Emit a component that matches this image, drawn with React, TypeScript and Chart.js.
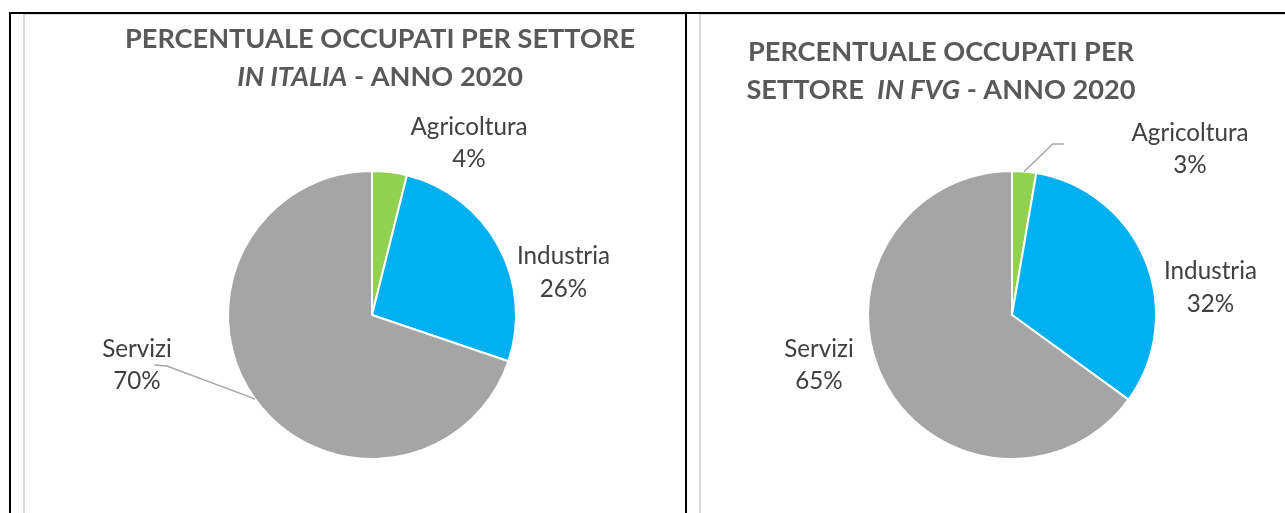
import React, { useEffect, useRef } from "react";
import { Chart, registerables } from "chart.js";

Chart.register(...registerables);

// ---------- data ----------
const categories = ["Agricoltura", "Industria", "Servizi"];
const italiaValues = [3.9, 26.3, 69.8];
const fvgValues = [2.7, 32.3, 65.0];
const sliceColors = ["#92D050", "#00B0F0", "#A5A5A5"];

type Run = { t: string; i?: boolean };
const italiaTitle: Run[][] = [
  [{ t: "PERCENTUALE OCCUPATI PER SETTORE" }],
  [{ t: "IN ITALIA", i: true }, { t: " - ANNO 2020" }],
];
const fvgTitle: Run[][] = [
  [{ t: "PERCENTUALE OCCUPATI PER" }],
  [{ t: "SETTORE  " }, { t: "IN FVG", i: true }, { t: " - ANNO 2020" }],
];

// ---------- styling / layout ----------
const FONT = "Lato";
const TITLE_COLOR = "#595959";
const LABEL_COLOR = "#404040";
const LEADER_COLOR = "#A6A6A6";
const TITLE_SIZE = 26.5;
const TITLE_FIT_TEXT = "PERCENTUALE OCCUPATI PER SETTORE";
const TITLE_FIT_WIDTH = 510;
const LABEL_FIT_TEXT = "Industria";
const LABEL_FIT_WIDTH = 93;
const LINE_HALF = 16.2;

type Cfg = {
  values: number[];
  title: Run[][];
  box: { x: number; y: number; w: number; h: number };
  pie: { cx: number; cy: number; r: number };
  titlePos: { cx: number; baselines: number[] };
  labels: { dx: number; dy: number }[];
  leaders: (number[][] | null)[];
};

const leftCfg: Cfg = {
  values: italiaValues,
  title: italiaTitle,
  box: { x: 25, y: 15, w: 660, h: 498 },
  pie: { cx: 372, cy: 315, r: 144 },
  titlePos: { cx: 380, baselines: [48, 86] },
  labels: [
    { dx: 97, dy: -172.5 },
    { dx: 191.5, dy: -43 },
    { dx: -235, dy: 49.5 },
  ],
  leaders: [null, null, [[-217.7, 50], [-205.2, 51]]],
};

const rightCfg: Cfg = {
  values: fvgValues,
  title: fvgTitle,
  box: { x: 701, y: 15, w: 584, h: 498 },
  pie: { cx: 1012, cy: 315, r: 144 },
  titlePos: { cx: 941, baselines: [61, 99] },
  labels: [
    { dx: 178, dy: -166.5 },
    { dx: 198.5, dy: -28 },
    { dx: -193, dy: 49.5 },
  ],
  leaders: [[[52, -171], [40.7, -171]], null, null],
};

function fitSize(ctx: CanvasRenderingContext2D, weight: string, text: string, width: number) {
  ctx.font = `${weight} 100px ${FONT}`;
  const w = ctx.measureText(text).width;
  return (100 * width) / w;
}

function makePlugin(cfg: Cfg) {
  return {
    id: "pieLabels",
    afterDatasetsDraw(chart: any) {
      const ctx: CanvasRenderingContext2D = chart.ctx;
      const ox = cfg.box.x;
      const oy = cfg.box.y;
      ctx.save();
      // title (slightly condensed to mimic the narrow original face)
      ctx.fillStyle = TITLE_COLOR;
      ctx.textBaseline = "alphabetic";
      ctx.textAlign = "left";
      ctx.font = `700 ${TITLE_SIZE}px ${FONT}`;
      const sx = TITLE_FIT_WIDTH / ctx.measureText(TITLE_FIT_TEXT).width;
      cfg.title.forEach((line, li) => {
        const runs = line.map((r) => ({
          t: r.t,
          font: `${r.i ? "italic " : ""}700 ${TITLE_SIZE}px ${FONT}`,
          w: 0,
        }));
        let total = 0;
        runs.forEach((r) => {
          ctx.font = r.font;
          r.w = ctx.measureText(r.t).width * sx;
          total += r.w;
        });
        let x = cfg.titlePos.cx - ox - total / 2;
        const y = cfg.titlePos.baselines[li] - oy;
        runs.forEach((r) => {
          ctx.save();
          ctx.font = r.font;
          ctx.translate(x, y);
          ctx.scale(sx, 1);
          ctx.fillText(r.t, 0, 0);
          ctx.restore();
          x += r.w;
        });
      });

      // labels
      const meta = chart.getDatasetMeta(0);
      const values: number[] = chart.data.datasets[0].data;
      const total = values.reduce((s, v) => s + v, 0);
      const lSize = fitSize(ctx, "400", LABEL_FIT_TEXT, LABEL_FIT_WIDTH);
      const capH = lSize * 0.7165;
      ctx.textAlign = "center";
      meta.data.forEach((arc: any, i: number) => {
        const p = arc.getProps(["x", "y", "startAngle", "endAngle", "outerRadius"], true);
        const off = cfg.labels[i];
        const lx = p.x + off.dx;
        const ly = p.y + off.dy;
        const lines = [categories[i], Math.round((values[i] / total) * 100) + "%"];
        ctx.font = `400 ${lSize}px ${FONT}`;
        ctx.fillStyle = LABEL_COLOR;
        lines.forEach((s, k) => {
          ctx.fillText(s, lx, ly + (k === 0 ? -LINE_HALF : LINE_HALF) + capH / 2);
        });
        const lead = cfg.leaders[i];
        if (lead) {
          const mid = (p.startAngle + p.endAngle) / 2;
          ctx.beginPath();
          ctx.moveTo(p.x + lead[0][0], p.y + lead[0][1]);
          for (let k = 1; k < lead.length; k++) ctx.lineTo(p.x + lead[k][0], p.y + lead[k][1]);
          ctx.lineTo(p.x + Math.cos(mid) * p.outerRadius, p.y + Math.sin(mid) * p.outerRadius);
          ctx.strokeStyle = LEADER_COLOR;
          ctx.lineWidth = 1.5;
          ctx.stroke();
        }
      });
      ctx.restore();
    },
  };
}

function PieChart({ cfg }: { cfg: Cfg }) {
  const ref = useRef<HTMLCanvasElement>(null);
  useEffect(() => {
    let chart: Chart | null = null;
    let cancelled = false;
    const make = () => {
      if (cancelled || !ref.current) return;
      const { box, pie } = cfg;
      const cx = pie.cx - box.x;
      const cy = pie.cy - box.y;
      const a = pie.r + 6;
      chart = new Chart(ref.current, {
        type: "pie",
        data: {
          labels: categories,
          datasets: [
            {
              data: cfg.values,
              backgroundColor: sliceColors,
              borderColor: "#ffffff",
              borderWidth: 2,
              hoverOffset: 0,
              radius: pie.r,
            } as any,
          ],
        },
        options: {
          responsive: false,
          animation: false,
          events: [],
          layout: {
            padding: {
              left: cx - a,
              right: box.w - cx - a,
              top: cy - a,
              bottom: box.h - cy - a,
            },
          },
          plugins: {
            legend: { display: false },
            tooltip: { enabled: false },
            title: { display: false },
          },
        },
        plugins: [makePlugin(cfg)],
      });
    };
    const fonts = (document as any).fonts;
    if (fonts && fonts.load) {
      Promise.all([
        fonts.load(`400 24px ${FONT}`),
        fonts.load(`700 30px ${FONT}`),
        fonts.load(`italic 700 30px ${FONT}`),
      ]).then(make, make);
    } else {
      make();
    }
    return () => {
      cancelled = true;
      if (chart) chart.destroy();
    };
  }, [cfg]);
  return (
    <canvas
      ref={ref}
      width={cfg.box.w}
      height={cfg.box.h}
      style={{
        position: "absolute",
        left: cfg.box.x,
        top: cfg.box.y,
        width: cfg.box.w,
        height: cfg.box.h,
      }}
    />
  );
}

export default function App() {
  const abs = (l: number, t: number, w: number, h: number, extra: React.CSSProperties = {}): React.CSSProperties => ({
    position: "absolute",
    left: l,
    top: t,
    width: w,
    height: h,
    boxSizing: "border-box",
    ...extra,
  });
  return (
    <div style={abs(0, 0, 1285, 513, { overflow: "hidden", background: "#ffffff" })}>
      {/* chart frames */}
      <div style={abs(23, 14, 662, 499, { borderLeft: "2px solid #D9D9D9", borderTop: "1px solid #D9D9D9" })} />
      <div style={abs(699, 14, 586, 499, { borderLeft: "2px solid #D9D9D9", borderTop: "1px solid #D9D9D9" })} />
      {/* table borders */}
      <div style={abs(9, 12, 1276, 2, { background: "#000" })} />
      <div style={abs(9, 12, 2, 501, { background: "#000" })} />
      <div style={abs(685, 12, 2, 501, { background: "#000" })} />
      <PieChart cfg={leftCfg} />
      <PieChart cfg={rightCfg} />
    </div>
  );
}
